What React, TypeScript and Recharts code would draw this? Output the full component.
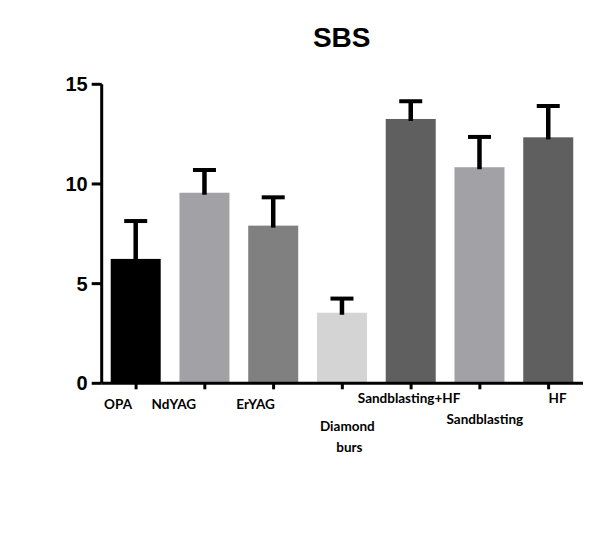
import React from 'react';
import { BarChart, Bar, XAxis, YAxis, Cell } from 'recharts';

const categories = ['OPA', 'NdYAG', 'ErYAG', 'Diamond burs', 'Sandblasting+HF', 'Sandblasting', 'HF'];
const means = [6.24, 9.56, 7.91, 3.54, 13.26, 10.84, 12.34];
const sds = [1.9, 1.14, 1.42, 0.71, 0.89, 1.52, 1.57];
const yTicks = [0, 5, 10, 15];

const BAR_COLORS = ['#000000', '#a2a1a6', '#808080', '#d4d4d4', '#5f5f5f', '#a2a1a6', '#5f5f5f'];

// label offsets relative to each tick (the original labels are staggered)
const LABEL_OFFSETS = [
  { dx: -18, dy: 0 },
  { dx: -31, dy: 0 },
  { dx: -18, dy: 0 },
  { dx: 5, dy: 22 },
  { dx: -2, dy: -6 },
  { dx: 5, dy: 15 },
  { dx: 9, dy: -6 },
];

const data = categories.map((name, i) => ({ name, mean: means[i], sd: sds[i] }));

const BarWithError = (props: any) => {
  const { x, y, width, height, fill, payload } = props;
  const perUnit = payload.mean ? height / payload.mean : 0;
  const top = y - payload.sd * perUnit;
  const cx = x + width / 2;
  return (
    <g>
      <rect x={x} y={y} width={width} height={height} fill={fill} />
      <line x1={cx} y1={y + 2} x2={cx} y2={top} stroke="#000" strokeWidth={4.5} />
      <line x1={cx - 11.5} y1={top} x2={cx + 11.5} y2={top} stroke="#000" strokeWidth={4} />
    </g>
  );
};

const XTick = (props: any) => {
  const { x, y, payload } = props;
  const off = LABEL_OFFSETS[payload.index] || { dx: 0, dy: 0 };
  const words = String(payload.value).split(' ');
  return (
    <text
      x={x + off.dx}
      y={y + off.dy}
      textAnchor="middle"
      fontFamily="Lato, 'Open Sans', sans-serif"
      fontWeight={700}
      fontSize={13.5}
      fill="#000"
    >
      {words.map((w, i) => (
        <tspan key={i} x={x + off.dx + (i > 0 ? 2 : 0)} dy={i === 0 ? 18 : 21}>
          {w}
        </tspan>
      ))}
    </text>
  );
};

export default function App() {
  return (
    <div style={{ position: 'absolute', left: 0, top: 0, width: 600, height: 533, background: '#fff' }}>
      <div
        style={{
          position: 'absolute',
          left: 241.7,
          top: 24.3,
          width: 200,
          textAlign: 'center',
          fontFamily: "'Liberation Sans', Arial, sans-serif",
          fontWeight: 700,
          fontSize: 28,
          lineHeight: '28px',
          color: '#000',
        }}
      >
        SBS
      </div>
      <BarChart
        width={600}
        height={533}
        data={data}
        margin={{ top: 84.3, right: 17, left: 41.7, bottom: 79.7 }}
        barSize={50}
      >
        <XAxis
          dataKey="name"
          interval={0}
          height={70}
          axisLine={{ stroke: '#000', strokeWidth: 3 }}
          tickLine={{ stroke: '#000', strokeWidth: 3 }}
          tickSize={6}
          tick={<XTick />}
        />
        <YAxis
          domain={[0, 15]}
          ticks={yTicks}
          width={60}
          axisLine={{ stroke: '#000', strokeWidth: 3 }}
          tickLine={{ stroke: '#000', strokeWidth: 3 }}
          tickSize={10}
          tickMargin={4}
          tick={{ fill: '#000', fontSize: 20, fontWeight: 700, fontFamily: "'Liberation Sans', Arial, sans-serif" }}
        />
        <Bar dataKey="mean" isAnimationActive={false} shape={<BarWithError />}>
          {data.map((d, i) => (
            <Cell key={d.name} fill={BAR_COLORS[i]} />
          ))}
        </Bar>
      </BarChart>
    </div>
  );
}
